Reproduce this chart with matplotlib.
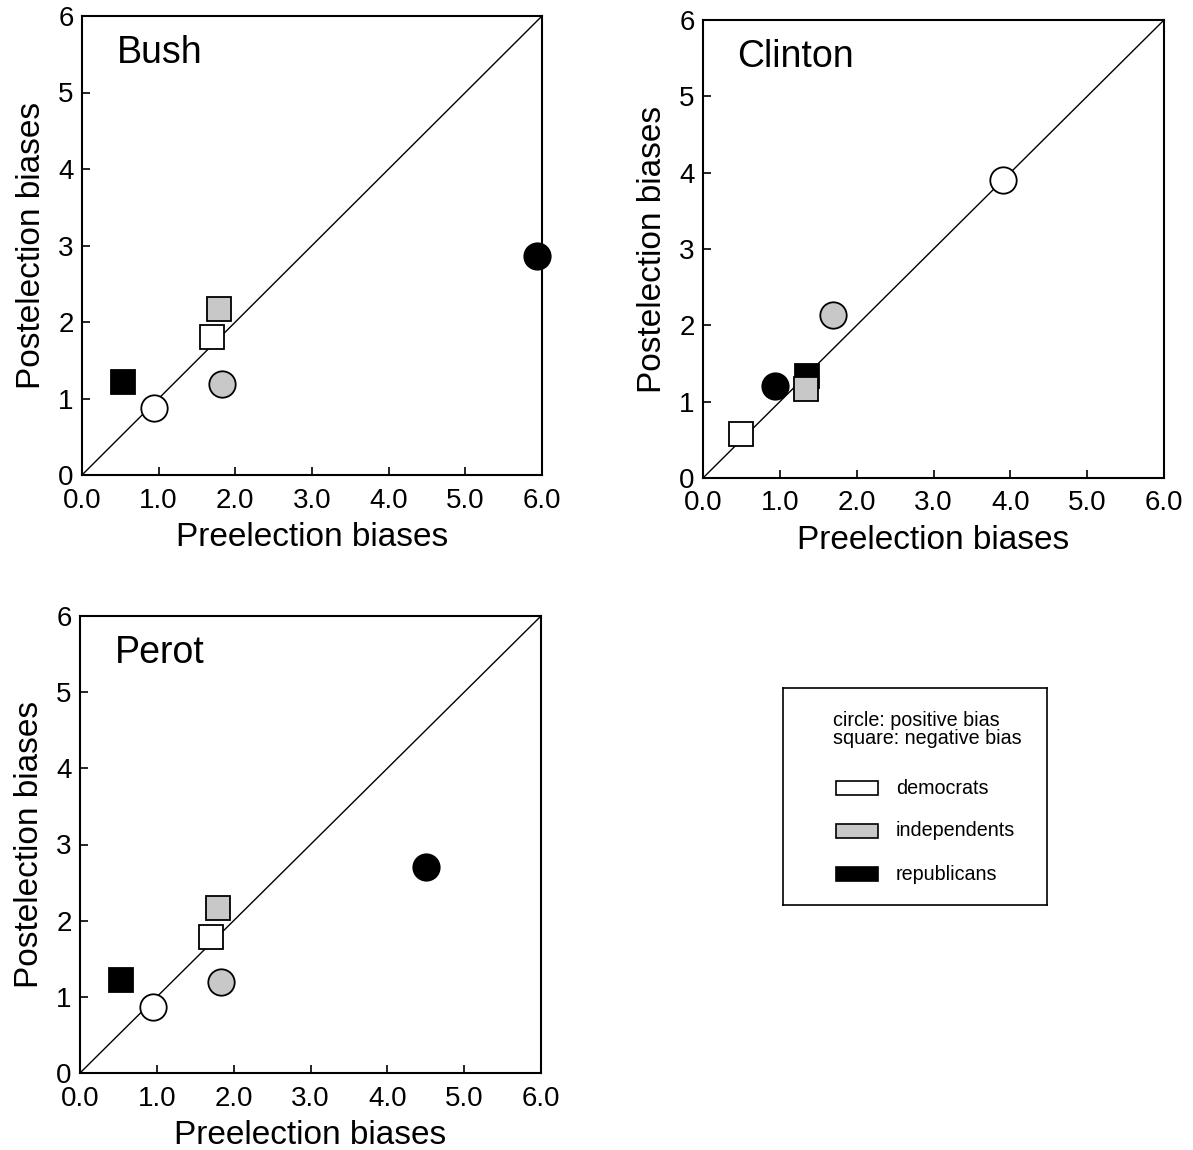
import matplotlib
matplotlib.use("Agg")
import matplotlib.pyplot as plt
from matplotlib.patches import Rectangle

plt.rcParams['font.family'] = ['Liberation Sans', 'DejaVu Sans']

candidates = ["Bush", "Clinton", "Perot"]
groups = ["democrats", "independents", "republicans"]
group_colors = ["white", "#c8c8c8", "black"]

# positive bias (circles): preelection, postelection per group
bush_circle_pre = [0.94, 1.82, 5.93]
bush_circle_post = [0.88, 1.19, 2.86]
bush_square_pre = [1.69, 1.79, 0.53]
bush_square_post = [1.80, 2.17, 1.22]

clinton_circle_pre = [3.90, 1.69, 0.94]
clinton_circle_post = [3.90, 2.14, 1.20]
clinton_square_pre = [0.50, 1.34, 1.35]
clinton_square_post = [0.57, 1.16, 1.34]

perot_circle_pre = [0.95, 1.83, 4.50]
perot_circle_post = [0.86, 1.19, 2.70]
perot_square_pre = [1.70, 1.79, 0.54]
perot_square_post = [1.78, 2.16, 1.22]

x_ticks = [0, 1, 2, 3, 4, 5, 6]
x_ticklabels = ["0.0", "1.0", "2.0", "3.0", "4.0", "5.0", "6.0"]
y_ticks = [0, 1, 2, 3, 4, 5, 6]
y_ticklabels = ["0", "1", "2", "3", "4", "5", "6"]

data = {
    "Bush": (bush_circle_pre, bush_circle_post, bush_square_pre, bush_square_post),
    "Clinton": (clinton_circle_pre, clinton_circle_post, clinton_square_pre, clinton_square_post),
    "Perot": (perot_circle_pre, perot_circle_post, perot_square_pre, perot_square_post),
}

W, H = 1193, 1150
fig = plt.figure(figsize=(W / 100, H / 100), dpi=100)

def px_axes(l, t, r, b):
    return fig.add_axes([l / W, 1 - b / H, (r - l) / W, (b - t) / H])

positions = {
    "Bush": (82, 16, 542, 475),
    "Clinton": (703, 20, 1164, 478),
    "Perot": (80, 616, 541, 1073),
}
group_z = [5, 4, 3]

for name in candidates:
    ax = px_axes(*positions[name])
    cpre, cpost, spre, spost = data[name]
    ax.plot([0, 6], [0, 6], color="black", lw=1.0, zorder=1)
    for i in range(3):
        ax.plot(spre[i], spost[i], marker="s", markersize=17, markerfacecolor=group_colors[i],
                markeredgecolor="black", markeredgewidth=1.3, linestyle="none", zorder=group_z[i],
                clip_on=False)
        ax.plot(cpre[i], cpost[i], marker="o", markersize=19, markerfacecolor=group_colors[i],
                markeredgecolor="black", markeredgewidth=1.3, linestyle="none", zorder=group_z[i],
                clip_on=False)
    ax.set_xlim(0, 6)
    ax.set_ylim(0, 6)
    ax.set_xticks(x_ticks)
    ax.set_xticklabels(x_ticklabels)
    ax.set_yticks(y_ticks)
    ax.set_yticklabels(y_ticklabels)
    ax.tick_params(direction="in", length=6, width=1.2, labelsize=20)
    ax.tick_params(axis="x", pad=9)
    ax.tick_params(axis="y", pad=6)
    for s in ax.spines.values():
        s.set_linewidth(1.5)
    ax.set_xlabel("Preelection biases", fontsize=24, labelpad=6)
    ax.set_ylabel("Postelection biases", fontsize=24, labelpad=8)
    ax.text(0.075, 0.92, name, transform=ax.transAxes, fontsize=27, va="center", ha="left")

# legend box
lax = fig.add_axes([783 / W, 1 - 905 / H, (1047 - 783) / W, (905 - 688) / H])
lax.set_xlim(0, 264)
lax.set_ylim(217, 0)
lax.set_xticks([])
lax.set_yticks([])
for s in lax.spines.values():
    s.set_linewidth(1.2)
lax.text(50, 32, "circle: positive bias", fontsize=14.2, va="center", ha="left")
lax.text(50, 50, "square: negative bias", fontsize=14.2, va="center", ha="left")
for i, g in enumerate(groups):
    y = 100 + i * 43
    lax.add_patch(Rectangle((53, y - 7), 42, 14, facecolor=group_colors[i], edgecolor="black", lw=1.2))
    lax.text(113, y, g, fontsize=14.2, va="center", ha="left")

fig.savefig("out.png", dpi=100)
